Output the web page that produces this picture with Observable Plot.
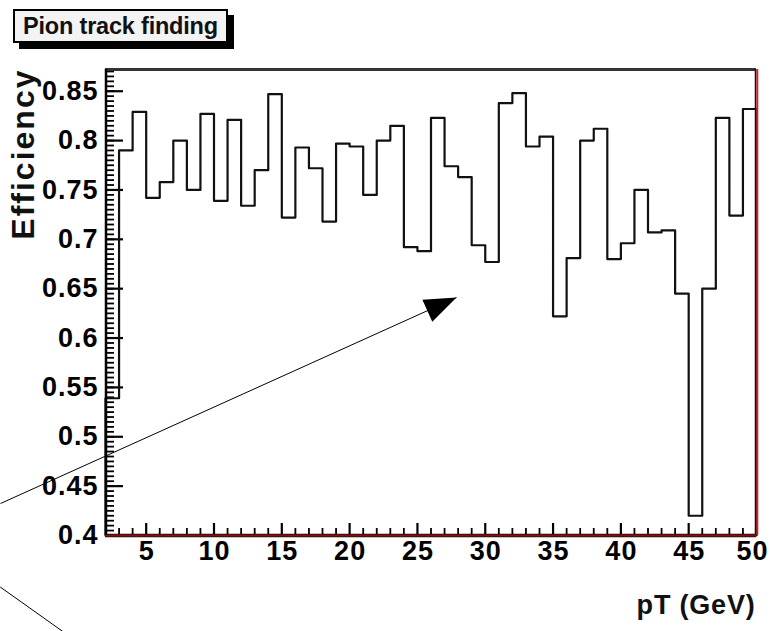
<!DOCTYPE html>
<html>
<head>
<meta charset="utf-8">
<script src="https://cdn.jsdelivr.net/npm/d3@7"></script>
<script src="https://cdn.jsdelivr.net/npm/@observablehq/plot@0.6"></script>
<style>
  html, body { margin: 0; padding: 0; background: #fff; overflow: hidden; }
  #title { position: relative; width: 770px; height: 50px; }
  #title .box {
    position: absolute; left: 13px; top: 9px; width: 211px; height: 30px;
    border: 2px solid #000; background: #f3f3f3; box-shadow: 6px 6px 0 #000;
    font: bold 23.5px "Liberation Sans", Arial, sans-serif; line-height: 31px;
    text-align: center; white-space: nowrap; color: #111; letter-spacing: -0.2px;
  }
  #chart svg { display: block; }
  g[aria-label="y-axis tick label"] text,
  g[aria-label="x-axis tick label"] text { letter-spacing: 1px; }
  text[aria-label="y-title"] { letter-spacing: 2px; }
  text[aria-label="x-title"] { letter-spacing: 0.8px; }
</style>
</head>
<body>
<div id="title"><div class="box">Pion track finding</div></div>
<div id="chart"></div>
<script>
// Low edge of each 1 GeV pT bin
const binLow = [2, 3, 4, 5, 6, 7, 8, 9, 10, 11, 12, 13, 14, 15, 16, 17, 18, 19, 20, 21, 22, 23, 24, 25,
                26, 27, 28, 29, 30, 31, 32, 33, 34, 35, 36, 37, 38, 39, 40, 41, 42, 43, 44, 45, 46, 47, 48, 49];
// Track-finding efficiency per bin
const efficiency = [0.539, 0.790, 0.829, 0.742, 0.758, 0.800, 0.750, 0.827, 0.739, 0.821, 0.734, 0.770,
                    0.847, 0.722, 0.793, 0.772, 0.718, 0.797, 0.794, 0.745, 0.800, 0.815, 0.692, 0.688,
                    0.823, 0.774, 0.763, 0.694, 0.677, 0.838, 0.848, 0.794, 0.804, 0.622, 0.681, 0.800,
                    0.812, 0.680, 0.696, 0.750, 0.707, 0.709, 0.645, 0.420, 0.650, 0.823, 0.724, 0.832];
const binHigh = 50;

const xTicks = [5, 10, 15, 20, 25, 30, 35, 40, 45, 50];
const xMinorTicks = [3, 4, 6, 7, 8, 9, 11, 12, 13, 14, 16, 17, 18, 19, 21, 22, 23, 24, 26, 27, 28, 29,
                     31, 32, 33, 34, 36, 37, 38, 39, 41, 42, 43, 44, 46, 47, 48, 49];
const yTicks = [0.4, 0.45, 0.5, 0.55, 0.6, 0.65, 0.7, 0.75, 0.8, 0.85];
const yMinorTicks = d3.range(0, 95).map(i => +(0.4 + i * 0.005).toFixed(3)).filter(v => v <= 0.87);

// Annotation strokes, in (pT, efficiency) coordinates
const pointerTail = {x: -5.74, y: 0.4324};
const pointerTip = {x: 27.88, y: 0.641};
const guideLine = [{x: -5.74, y: 0.3476}, {x: -1.15, y: 0.3028}];

const width = 770, height = 581;
const margin = {top: 19, right: 14, bottom: 96, left: 105};
const xDomain = [2, 50], yDomain = [0.4, 0.872];
const font = "Liberation Sans, Arial, Helvetica, sans-serif";

// Outline of the histogram (closed down to the frame at both ends)
const outline = [
  {x: binLow[0], y: yDomain[0]},
  ...binLow.map((x, i) => ({x, y: efficiency[i]})),
  {x: binHigh, y: efficiency[efficiency.length - 1]},
  {x: binHigh, y: yDomain[0]}
];

// Filled arrowhead oriented along the pointer, tip at the symbol origin
const xs = Plot.scale({x: {domain: xDomain, range: [margin.left, width - margin.right]}});
const ys = Plot.scale({y: {domain: yDomain, range: [height - margin.bottom, margin.top]}});
const ux = xs.apply(pointerTip.x) - xs.apply(pointerTail.x);
const uy = ys.apply(pointerTip.y) - ys.apply(pointerTail.y);
const ul = Math.hypot(ux, uy), cx = ux / ul, cy = uy / ul;
const headLength = 32, headHalf = 12;
const arrowHead = {
  draw(ctx) {
    ctx.moveTo(0, 0);
    ctx.lineTo(-headLength * cx - headHalf * cy, -headLength * cy + headHalf * cx);
    ctx.lineTo(-headLength * cx + headHalf * cy, -headLength * cy - headHalf * cx);
    ctx.closePath();
  }
};

const tickFont = 27;
const xLabelOptions = {anchor: "bottom", tickSize: 0, tickPadding: 5, tickFormat: d => `${d}`,
  fontSize: tickFont, fontWeight: "bold", label: null};

const chart = Plot.plot({
  width, height,
  marginTop: margin.top, marginRight: margin.right, marginBottom: margin.bottom, marginLeft: margin.left,
  style: {fontFamily: font, fontWeight: "bold", background: "#fff", color: "#000"},
  x: {domain: xDomain, axis: null},
  y: {domain: yDomain, axis: null},
  marks: [
    // minor and major ticks, drawn inside the frame
    Plot.axisY(yMinorTicks, {anchor: "left", tickSize: -9, strokeWidth: 1.8, tickFormat: () => "", label: null}),
    Plot.axisY(yTicks, {anchor: "left", tickSize: -18, tickPadding: 25, strokeWidth: 2.2,
      tickFormat: d => `${d}`, fontSize: tickFont, fontWeight: "bold", label: null}),
    Plot.axisX(xMinorTicks, {anchor: "bottom", tickSize: -7, strokeWidth: 1.8, tickFormat: () => "", label: null}),
    Plot.axisX(xTicks, {anchor: "bottom", tickSize: -12, strokeWidth: 2.2, tickFormat: () => "", label: null}),
    // tick labels; the last one is pulled in to stay inside the canvas
    Plot.axisX(xTicks.slice(0, -1), {...xLabelOptions, dx: 0.5}),
    Plot.axisX(xTicks.slice(-1), {...xLabelOptions, dx: -4}),
    // histogram
    Plot.line(outline, {x: "x", y: "y", curve: "step-after", stroke: "#111", strokeWidth: 2.2}),
    // frame
    Plot.ruleY([yDomain[1]], {stroke: "#333", strokeWidth: 3}),
    Plot.ruleX([xDomain[1]], {stroke: "#111", strokeWidth: 1.5, dx: -1}),
    Plot.ruleX([xDomain[1]], {stroke: "#c8262a", strokeWidth: 2, dx: 0.8}),
    Plot.ruleY([yDomain[0]], {stroke: "#111", strokeWidth: 3.5}),
    Plot.ruleY([yDomain[0]], {stroke: "#8a0c0c", strokeWidth: 2}),
    Plot.ruleX([xDomain[0]], {stroke: "#000", strokeWidth: 2.5, dx: 0.5}),
    // axis titles
    Plot.text(["Efficiency"], {text: d => d, frameAnchor: "top-left", rotate: -90, textAnchor: "end",
      lineAnchor: "middle", dx: -82, dy: -1, fontSize: 32, fontWeight: "bold", fill: "#111",
      ariaLabel: () => "y-title"}),
    Plot.text(["pT (GeV)"], {text: d => d, frameAnchor: "bottom-right", textAnchor: "end",
      lineAnchor: "middle", dx: -1, dy: 70, fontSize: 27, fontWeight: "bold", fill: "#111",
      ariaLabel: () => "x-title"}),
    // annotations
    Plot.link([{tail: pointerTail, tip: pointerTip}], {x1: d => d.tail.x, y1: d => d.tail.y,
      x2: d => d.tip.x, y2: d => d.tip.y, stroke: "#000", strokeWidth: 1}),
    Plot.dot([pointerTip], {x: "x", y: "y", symbol: arrowHead, fill: "#000", stroke: "none"}),
    Plot.line(guideLine, {x: "x", y: "y", stroke: "#000", strokeWidth: 1})
  ]
});
document.getElementById("chart").append(chart);
</script>
</body>
</html>
